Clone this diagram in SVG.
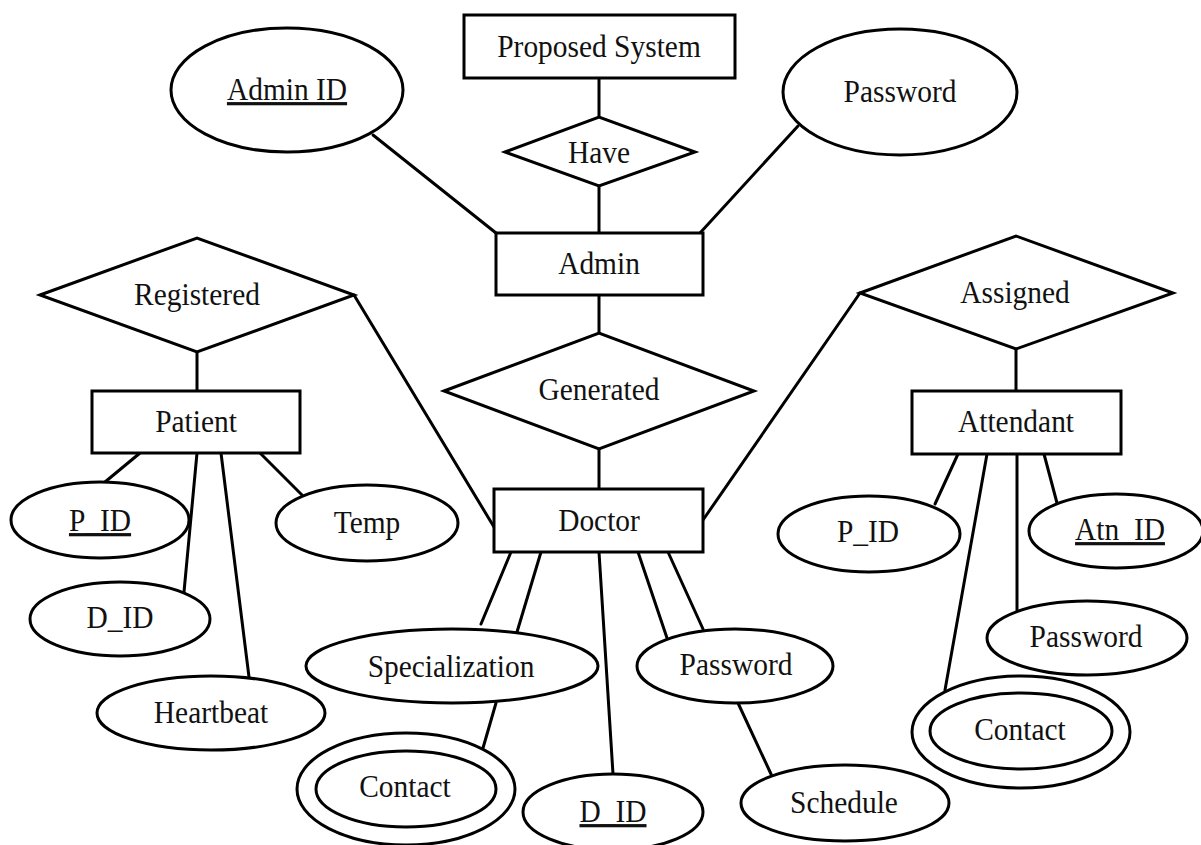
<svg xmlns="http://www.w3.org/2000/svg" width="1201" height="845" viewBox="0 0 1201 845">
<style>
.s{fill:#fff;stroke:#000;stroke-width:3}
.c line{stroke:#000;stroke-width:3;stroke-linecap:round}
text{font-family:"Liberation Serif","Times New Roman",serif;font-size:32px;fill:#111;text-anchor:middle}
.u{text-decoration:underline}
</style>
<rect width="1201" height="845" fill="#fff"/>
<g id="connectors" class="c">
<line x1="599" y1="78" x2="599" y2="117"/>
<line x1="599" y1="186" x2="599" y2="233"/>
<line x1="373" y1="135" x2="496" y2="233"/>
<line x1="798" y1="126" x2="700" y2="233"/>
<line x1="599" y1="295" x2="599" y2="333"/>
<line x1="599" y1="449" x2="599" y2="489"/>
<line x1="354" y1="295" x2="494" y2="527"/>
<line x1="860" y1="293" x2="703" y2="520"/>
<line x1="197" y1="352" x2="197" y2="391"/>
<line x1="1016" y1="349" x2="1016" y2="391"/>
<line x1="140" y1="453" x2="105" y2="482"/>
<line x1="197" y1="453" x2="184" y2="592"/>
<line x1="221" y1="453" x2="249" y2="677"/>
<line x1="260" y1="453" x2="302" y2="495"/>
<line x1="511" y1="552" x2="481" y2="624"/>
<line x1="541" y1="552" x2="517" y2="632"/>
<line x1="496" y1="703" x2="483" y2="748"/>
<line x1="599" y1="552" x2="613" y2="774"/>
<line x1="638" y1="552" x2="667" y2="638"/>
<line x1="668" y1="552" x2="703" y2="629"/>
<line x1="738" y1="703" x2="771" y2="774"/>
<line x1="958" y1="454" x2="935" y2="504"/>
<line x1="987" y1="454" x2="945" y2="690"/>
<line x1="1017" y1="454" x2="1017" y2="610"/>
<line x1="1044" y1="454" x2="1057" y2="503"/>
</g>
<g id="proposed-system"><rect class="s" x="464" y="15" width="271" height="63"/><text transform="translate(599 57) scale(.92 1)">Proposed System</text></g>
<g id="have"><polygon class="s" points="505,152 599,117 695,152 599,186"/><text transform="translate(599 163) scale(.92 1)">Have</text></g>
<g id="admin"><rect class="s" x="496" y="233" width="207" height="62"/><text transform="translate(599 274) scale(.92 1)">Admin</text></g>
<g id="admin-id"><ellipse class="s" cx="287" cy="90" rx="116" ry="62"/><text class="u" transform="translate(287 100) scale(.92 1)">Admin ID</text></g>
<g id="admin-password"><ellipse class="s" cx="900" cy="92" rx="117" ry="63"/><text transform="translate(900 102) scale(.92 1)">Password</text></g>
<g id="generated"><polygon class="s" points="444,391 599,333 754,391 599,449"/><text transform="translate(599 400) scale(.92 1)">Generated</text></g>
<g id="registered"><polygon class="s" points="40,295 197,238 354,295 197,352"/><text transform="translate(197 305) scale(.92 1)">Registered</text></g>
<g id="assigned"><polygon class="s" points="860,293 1016,236 1173,293 1016,349"/><text transform="translate(1015 303) scale(.92 1)">Assigned</text></g>
<g id="patient"><rect class="s" x="92" y="391" width="208" height="62"/><text transform="translate(196 432) scale(.92 1)">Patient</text></g>
<g id="attendant"><rect class="s" x="912" y="391" width="209" height="63"/><text transform="translate(1016 432) scale(.92 1)">Attendant</text></g>
<g id="doctor"><rect class="s" x="494" y="489" width="209" height="63"/><text transform="translate(599 531) scale(.92 1)">Doctor</text></g>
<g id="patient-pid"><ellipse class="s" cx="100" cy="520" rx="89" ry="38"/><text class="u" transform="translate(100 531) scale(.92 1)">P_ID</text></g>
<g id="patient-did"><ellipse class="s" cx="120" cy="619" rx="90" ry="37"/><text transform="translate(120 628) scale(.92 1)">D_ID</text></g>
<g id="heartbeat"><ellipse class="s" cx="211" cy="713" rx="114" ry="37"/><text transform="translate(211 723) scale(.92 1)">Heartbeat</text></g>
<g id="temp"><ellipse class="s" cx="367" cy="523" rx="91" ry="38"/><text transform="translate(367 533) scale(.92 1)">Temp</text></g>
<g id="specialization"><ellipse class="s" cx="452" cy="666" rx="146" ry="37"/><text transform="translate(451 677) scale(.92 1)">Specialization</text></g>
<g id="doctor-contact"><ellipse class="s" cx="406" cy="789" rx="109" ry="56"/><ellipse class="s" cx="406" cy="789" rx="90" ry="38"/><text transform="translate(405 797) scale(.92 1)">Contact</text></g>
<g id="doctor-did"><ellipse class="s" cx="613" cy="812" rx="90" ry="38"/><text class="u" transform="translate(613 822) scale(.92 1)">D_ID</text></g>
<g id="doctor-password"><ellipse class="s" cx="735" cy="666" rx="98" ry="37"/><text transform="translate(736 675) scale(.92 1)">Password</text></g>
<g id="schedule"><ellipse class="s" cx="845" cy="803" rx="104" ry="38"/><text transform="translate(844 813) scale(.92 1)">Schedule</text></g>
<g id="attendant-pid"><ellipse class="s" cx="869" cy="534" rx="91" ry="38"/><text transform="translate(868 542) scale(.92 1)">P_ID</text></g>
<g id="atn-id"><ellipse class="s" cx="1116" cy="531" rx="87" ry="37"/><text class="u" transform="translate(1120 540) scale(.92 1)">Atn_ID</text></g>
<g id="attendant-password"><ellipse class="s" cx="1087" cy="638" rx="100" ry="37"/><text transform="translate(1086 647) scale(.92 1)">Password</text></g>
<g id="attendant-contact"><ellipse class="s" cx="1021" cy="732" rx="109" ry="56"/><ellipse class="s" cx="1021" cy="731" rx="91" ry="38"/><text transform="translate(1020 740) scale(.92 1)">Contact</text></g>
</svg>
